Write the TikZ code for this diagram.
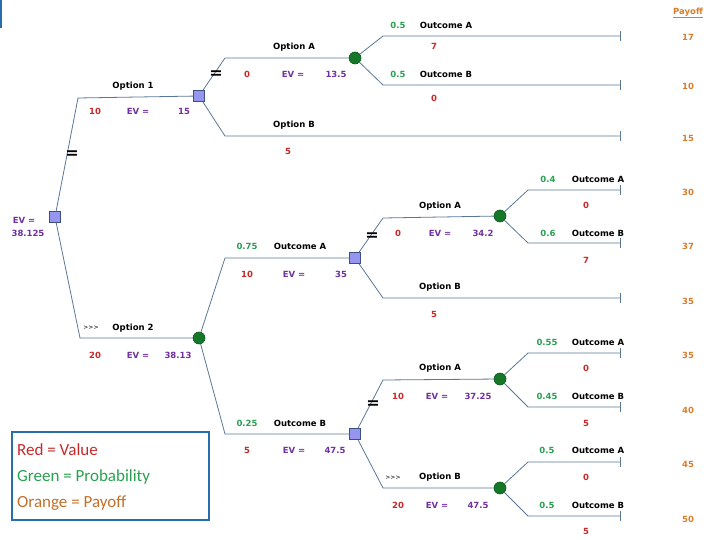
\documentclass[tikz,border=0pt]{standalone}
\usepackage{fontspec}
\setmainfont{DejaVu Sans}
\newfontfamily\legfont{Carlito}
\begin{document}
\begin{tikzpicture}[x=1pt,y=-1pt,
 ln/.style={draw=lnc,line width=0.8pt},
 sq/.style={draw=sqb,fill=sqf,line width=1.3pt,minimum size=11pt,inner sep=0pt},
 ci/.style={circle,draw=cib,fill=cif,minimum width=12pt,minimum height=10pt,inner sep=0pt},
 t/.style={font=\bfseries\fontsize{8.5}{10}\selectfont,inner sep=0pt},
 lab/.style={t,text=black},
 val/.style={t,text=vred},
 ev/.style={t,text=vpur},
 pr/.style={t,text=vgrn},
 pay/.style={t,text=vorg},
 mk/.style={inner sep=0pt,font=\fontsize{6}{6}\selectfont},
 eq/.style={font=\bfseries\fontsize{16}{16}\selectfont,inner sep=0pt}]
\definecolor{lnc}{RGB}{90,120,150}
\definecolor{sqb}{RGB}{60,80,130}
\definecolor{sqf}{RGB}{150,150,240}
\definecolor{cib}{RGB}{20,90,40}
\definecolor{cif}{RGB}{20,120,40}
\definecolor{vred}{RGB}{200,40,40}
\definecolor{vpur}{RGB}{112,48,160}
\definecolor{vgrn}{RGB}{40,160,80}
\definecolor{vorg}{RGB}{215,125,45}
\definecolor{legb}{RGB}{40,110,170}
\useasboundingbox (0,0) rectangle (720,540);
\draw[legb,line width=1.5pt] (1,0) -- (1,28);
% nodes
\node[sq] (r) at (55,217) {};
\node[sq] (o1) at (199,96) {};
\node[ci] (c1) at (355,58) {};
\node[ci] (c2) at (199,338) {};
\node[sq] (s2) at (355,258) {};
\node[sq] (s3) at (355,434) {};
\node[ci] (c3) at (500,216) {};
\node[ci] (c4) at (500,379) {};
\node[ci] (c5) at (500,488) {};
\foreach \n/\x/\y in {a1/78/98,a2/80/338,b1/225/58,b2/225/136,d1/383/36,d2/383/85,
 e1/225/258,e2/225/434,f1/383/218,f2/383/298,g1/528/190,g2/528/243,
 h1/383/380,h2/383/488,i1/528/353,i2/528/407,j1/528/462,j2/528/516}
 \coordinate (\n) at (\x,\y);
\foreach \n/\y in {p1/36,p2/85,p3/136,p4/190,p5/243,p6/298,p7/353,p8/407,p9/462,p10/516}
 \coordinate (\n) at (620,\y);
\draw[ln] (r) -- (a1) -- (o1);
\draw[ln] (r) -- (a2) -- (c2);
\draw[ln] (o1) -- (b1) -- (c1);
\draw[ln] (o1) -- (b2) -- (p3);
\draw[ln] (c1) -- (d1) -- (p1);
\draw[ln] (c1) -- (d2) -- (p2);
\draw[ln] (c2) -- (e1) -- (s2);
\draw[ln] (c2) -- (e2) -- (s3);
\draw[ln] (s2) -- (f1) -- (c3);
\draw[ln] (s2) -- (f2) -- (p6);
\draw[ln] (c3) -- (g1) -- (p4);
\draw[ln] (c3) -- (g2) -- (p5);
\draw[ln] (s3) -- (h1) -- (c4);
\draw[ln] (s3) -- (h2) -- (c5);
\draw[ln] (c4) -- (i1) -- (p7);
\draw[ln] (c4) -- (i2) -- (p8);
\draw[ln] (c5) -- (j1) -- (p9);
\draw[ln] (c5) -- (j2) -- (p10);
\foreach \p in {p1,p2,p3,p4,p5,p6,p7,p8,p9,p10}
 \draw[ln] ([yshift=-5]\p) -- ([yshift=5]\p);
\foreach \n in {r,o1,s2,s3} \node[sq] at (\n) {};
\foreach \n in {c1,c2,c3,c4,c5} \node[ci] at (\n) {};
% root
\node[ev] (rev) at (24,220) {EV =};
\node[ev] (rv) at (28,233) {38.125};
% option 1
\node[lab] (l1) at (133,86) {Option 1};
\node[val] (v1) at (95,111) {10};
\node[ev] (e1t) at (138,111) {EV =};
\node[ev] (n1) at (184,111) {15};
\node[lab] (l2) at (294,47) {Option A};
\node[val] (v2) at (247,74) {0};
\node[ev] (e2t) at (293,74) {EV =};
\node[ev] (n2) at (336,74) {13.5};
\node[lab] (l3) at (294,125) {Option B};
\node[val] (v3) at (288,151) {5};
\node[pr] (q1) at (398,25) {0.5};
\node[lab] (l4) at (446,25) {Outcome A};
\node[val] (v4) at (434,46) {7};
\node[pr] (q2) at (398,74) {0.5};
\node[lab] (l5) at (446,74) {Outcome B};
\node[val] (v5) at (434,98) {0};
% option 2
\node[mk] (m1) at (91,328) {{>}{>}{>}};
\node[lab] (l6) at (133,328) {Option 2};
\node[val] (v6) at (95,355) {20};
\node[ev] (e6t) at (138,355) {EV =};
\node[ev] (n6) at (178,355) {38.13};
\node[pr] (q3) at (247,246) {0.75};
\node[lab] (l7) at (300,246) {Outcome A};
\node[val] (v7) at (247,274) {10};
\node[ev] (e7t) at (294,274) {EV =};
\node[ev] (n7) at (341,274) {35};
\node[lab] (l8) at (440,206) {Option A};
\node[val] (v8) at (398,233) {0};
\node[ev] (e8t) at (440,233) {EV =};
\node[ev] (n8) at (483,233) {34.2};
\node[lab] (l9) at (440,287) {Option B};
\node[val] (v9) at (434,314) {5};
\node[pr] (q4) at (548,179) {0.4};
\node[lab] (l10) at (598,179) {Outcome A};
\node[val] (v10) at (586,205) {0};
\node[pr] (q5) at (548,233) {0.6};
\node[lab] (l11) at (598,233) {Outcome B};
\node[val] (v11) at (586,260) {7};
\node[pr] (q6) at (247,423) {0.25};
\node[lab] (l12) at (300,423) {Outcome B};
\node[val] (v12) at (247,450) {5};
\node[ev] (e12t) at (294,450) {EV =};
\node[ev] (n12) at (335,450) {47.5};
\node[lab] (l13) at (440,368) {Option A};
\node[val] (v13) at (398,396) {10};
\node[ev] (e13t) at (437,396) {EV =};
\node[ev] (n13) at (478,396) {37.25};
\node[mk] (m2) at (393,478) {{>}{>}{>}};
\node[lab] (l14) at (440,477) {Option B};
\node[val] (v14) at (398,505) {20};
\node[ev] (e14t) at (437,505) {EV =};
\node[ev] (n14) at (478,505) {47.5};
\node[pr] (q7) at (547,342) {0.55};
\node[lab] (l15) at (598,342) {Outcome A};
\node[val] (v15) at (586,368) {0};
\node[pr] (q8) at (547,396) {0.45};
\node[lab] (l16) at (598,396) {Outcome B};
\node[val] (v16) at (586,423) {5};
\node[pr] (q9) at (547,450) {0.5};
\node[lab] (l17) at (598,450) {Outcome A};
\node[val] (v17) at (586,477) {0};
\node[pr] (q10) at (547,505) {0.5};
\node[lab] (l18) at (598,505) {Outcome B};
\node[val] (v18) at (586,531) {5};
% equals marks
\node[eq] (z1) at (216,75) {=};
\node[eq] (z2) at (72,155) {=};
\node[eq] (z3) at (372,237) {=};
\node[eq] (z4) at (373,405) {=};
% payoffs
\node[pay] (ph) at (688,13) {\underline{Payoff}};
\foreach \y/\v in {37/17,86/10,138/15,192/30,246/37,301/35,355/35,410/40,464/45,519/50}
 \node[pay] at (688,\y) {\v};
% legend
\node[draw=legb,line width=1.5pt,minimum width=197pt,minimum height=88pt,inner sep=0pt] (leg) at (110.5,476) {};
\node[anchor=west,inner sep=0pt,font=\legfont\fontsize{17}{19}\selectfont,text=vred] (lg1) at (17,450) {Red = Value};
\node[anchor=west,inner sep=0pt,font=\legfont\fontsize{17}{19}\selectfont,text=vgrn] (lg2) at (17,477) {Green = Probability};
\node[anchor=west,inner sep=0pt,font=\legfont\fontsize{17}{19}\selectfont,text=vorg!90!black] (lg3) at (17,503) {Orange = Payoff};
\end{tikzpicture}
\end{document}
